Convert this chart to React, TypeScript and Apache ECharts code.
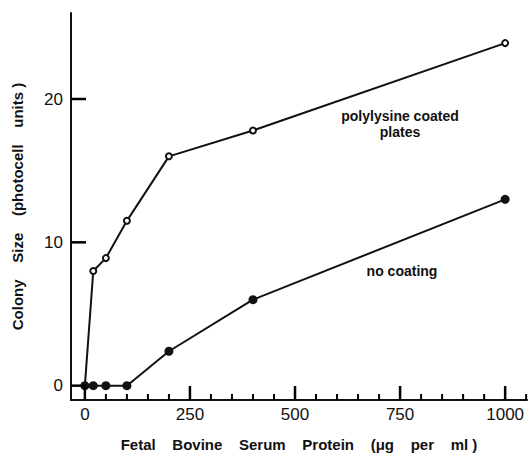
import React, { useEffect, useRef } from "react";
import * as echarts from "echarts";

const protein = [0, 20, 50, 100, 200, 400, 1000];
const polylysine = [0, 8, 8.9, 11.5, 16, 17.8, 23.9];
const noCoating = [0, 0, 0, 0, 2.4, 6, 13];
const xTickLabels = [0, 250, 500, 750, 1000];
const xMinorTicks = [50, 100, 150, 200, 300, 350, 400, 450, 550, 600, 650, 700, 800, 850, 900, 950, 1050];
const yTickLabels = [0, 10, 20];

const FONT = "Liberation Sans";
const GAP = "    ";

export default function App() {
  const ref = useRef<HTMLDivElement>(null);
  useEffect(() => {
    if (!ref.current) return;
    const chart = echarts.init(ref.current, undefined, { renderer: "svg" });
    const xMin = -33;
    const xMax = 1052;
    const yMin = -1;
    const tickSeries = (name: string, data: number[][], size: number[], offset: number[]) => ({
      name,
      type: "scatter",
      data,
      symbol: "rect",
      symbolSize: size,
      symbolOffset: offset,
      itemStyle: { color: "#000000", opacity: 1 },
      clip: false,
      silent: true,
      z: 5,
    });
    chart.setOption({
      animation: false,
      backgroundColor: "#ffffff",
      grid: { left: 71, top: 13, right: 2, bottom: 56 },
      xAxis: {
        type: "value",
        min: xMin,
        max: xMax,
        name: ["Fetal", "Bovine", "Serum", "Protein", "(\u03bcg", "per", "ml )"].join(GAP),
        nameLocation: "middle",
        nameGap: 37,
        nameTextStyle: { fontFamily: FONT, fontWeight: "bold", fontSize: 15, color: "#111" },
        axisLine: { show: true, onZero: false, lineStyle: { color: "#111", width: 2 } },
        axisTick: { show: false },
        axisLabel: {
          customValues: xTickLabels,
          margin: 6,
          fontFamily: FONT,
          fontSize: 17,
          color: "#111",
          formatter: (v: number) => String(v),
        },
        splitLine: { show: false },
      },
      yAxis: {
        type: "value",
        min: yMin,
        max: 26,
        name: ["Colony", "Size", "(photocell", "units )"].join(GAP),
        nameLocation: "middle",
        nameGap: 46,
        nameTextStyle: { fontFamily: FONT, fontWeight: "bold", fontSize: 15, color: "#111" },
        axisLine: { show: true, onZero: false, lineStyle: { color: "#111", width: 2 } },
        axisTick: { show: false },
        axisLabel: { customValues: yTickLabels, margin: 8, fontFamily: FONT, fontSize: 17, color: "#111" },
        splitLine: { show: false },
      },
      series: [
        {
          name: "polylysine coated plates",
          type: "line",
          data: protein.map((x, i) => [x, polylysine[i]]),
          symbol: "emptyCircle",
          symbolSize: 6,
          lineStyle: { color: "#111", width: 2 },
          itemStyle: { color: "#111", borderWidth: 1.5, borderColor: "#111" },
          z: 2,
        },
        {
          name: "no coating",
          type: "line",
          data: protein.map((x, i) => [x, noCoating[i]]),
          symbol: "circle",
          symbolSize: 9,
          lineStyle: { color: "#111", width: 2 },
          itemStyle: { color: "#111" },
          z: 3,
        },
        tickSeries("x major ticks", xTickLabels.map((x) => [x, yMin]), [2.5, 14], [0, -7]),
        tickSeries("x minor ticks", xMinorTicks.map((x) => [x, yMin]), [2, 6], [0, -3]),
        tickSeries("y major ticks", yTickLabels.map((y) => [xMin, y]), [15, 2.5], [7.5, 0]),
      ],
      graphic: [
        {
          type: "text",
          x: 400,
          y: 116,
          style: {
            text: "polylysine coated",
            fontFamily: FONT,
            fontWeight: "bold",
            fontSize: 14,
            fill: "#111",
            align: "center",
            verticalAlign: "middle",
          },
        },
        {
          type: "text",
          x: 400,
          y: 132,
          style: {
            text: "plates",
            fontFamily: FONT,
            fontWeight: "bold",
            fontSize: 14,
            fill: "#111",
            align: "center",
            verticalAlign: "middle",
          },
        },
        {
          type: "text",
          x: 402,
          y: 271,
          style: {
            text: "no coating",
            fontFamily: FONT,
            fontWeight: "bold",
            fontSize: 14,
            fill: "#111",
            align: "center",
            verticalAlign: "middle",
          },
        },
      ],
    });
    return () => chart.dispose();
  }, []);
  return (
    <div
      ref={ref}
      style={{ position: "absolute", left: 0, top: 0, width: 529, height: 457, background: "#fff" }}
    />
  );
}
